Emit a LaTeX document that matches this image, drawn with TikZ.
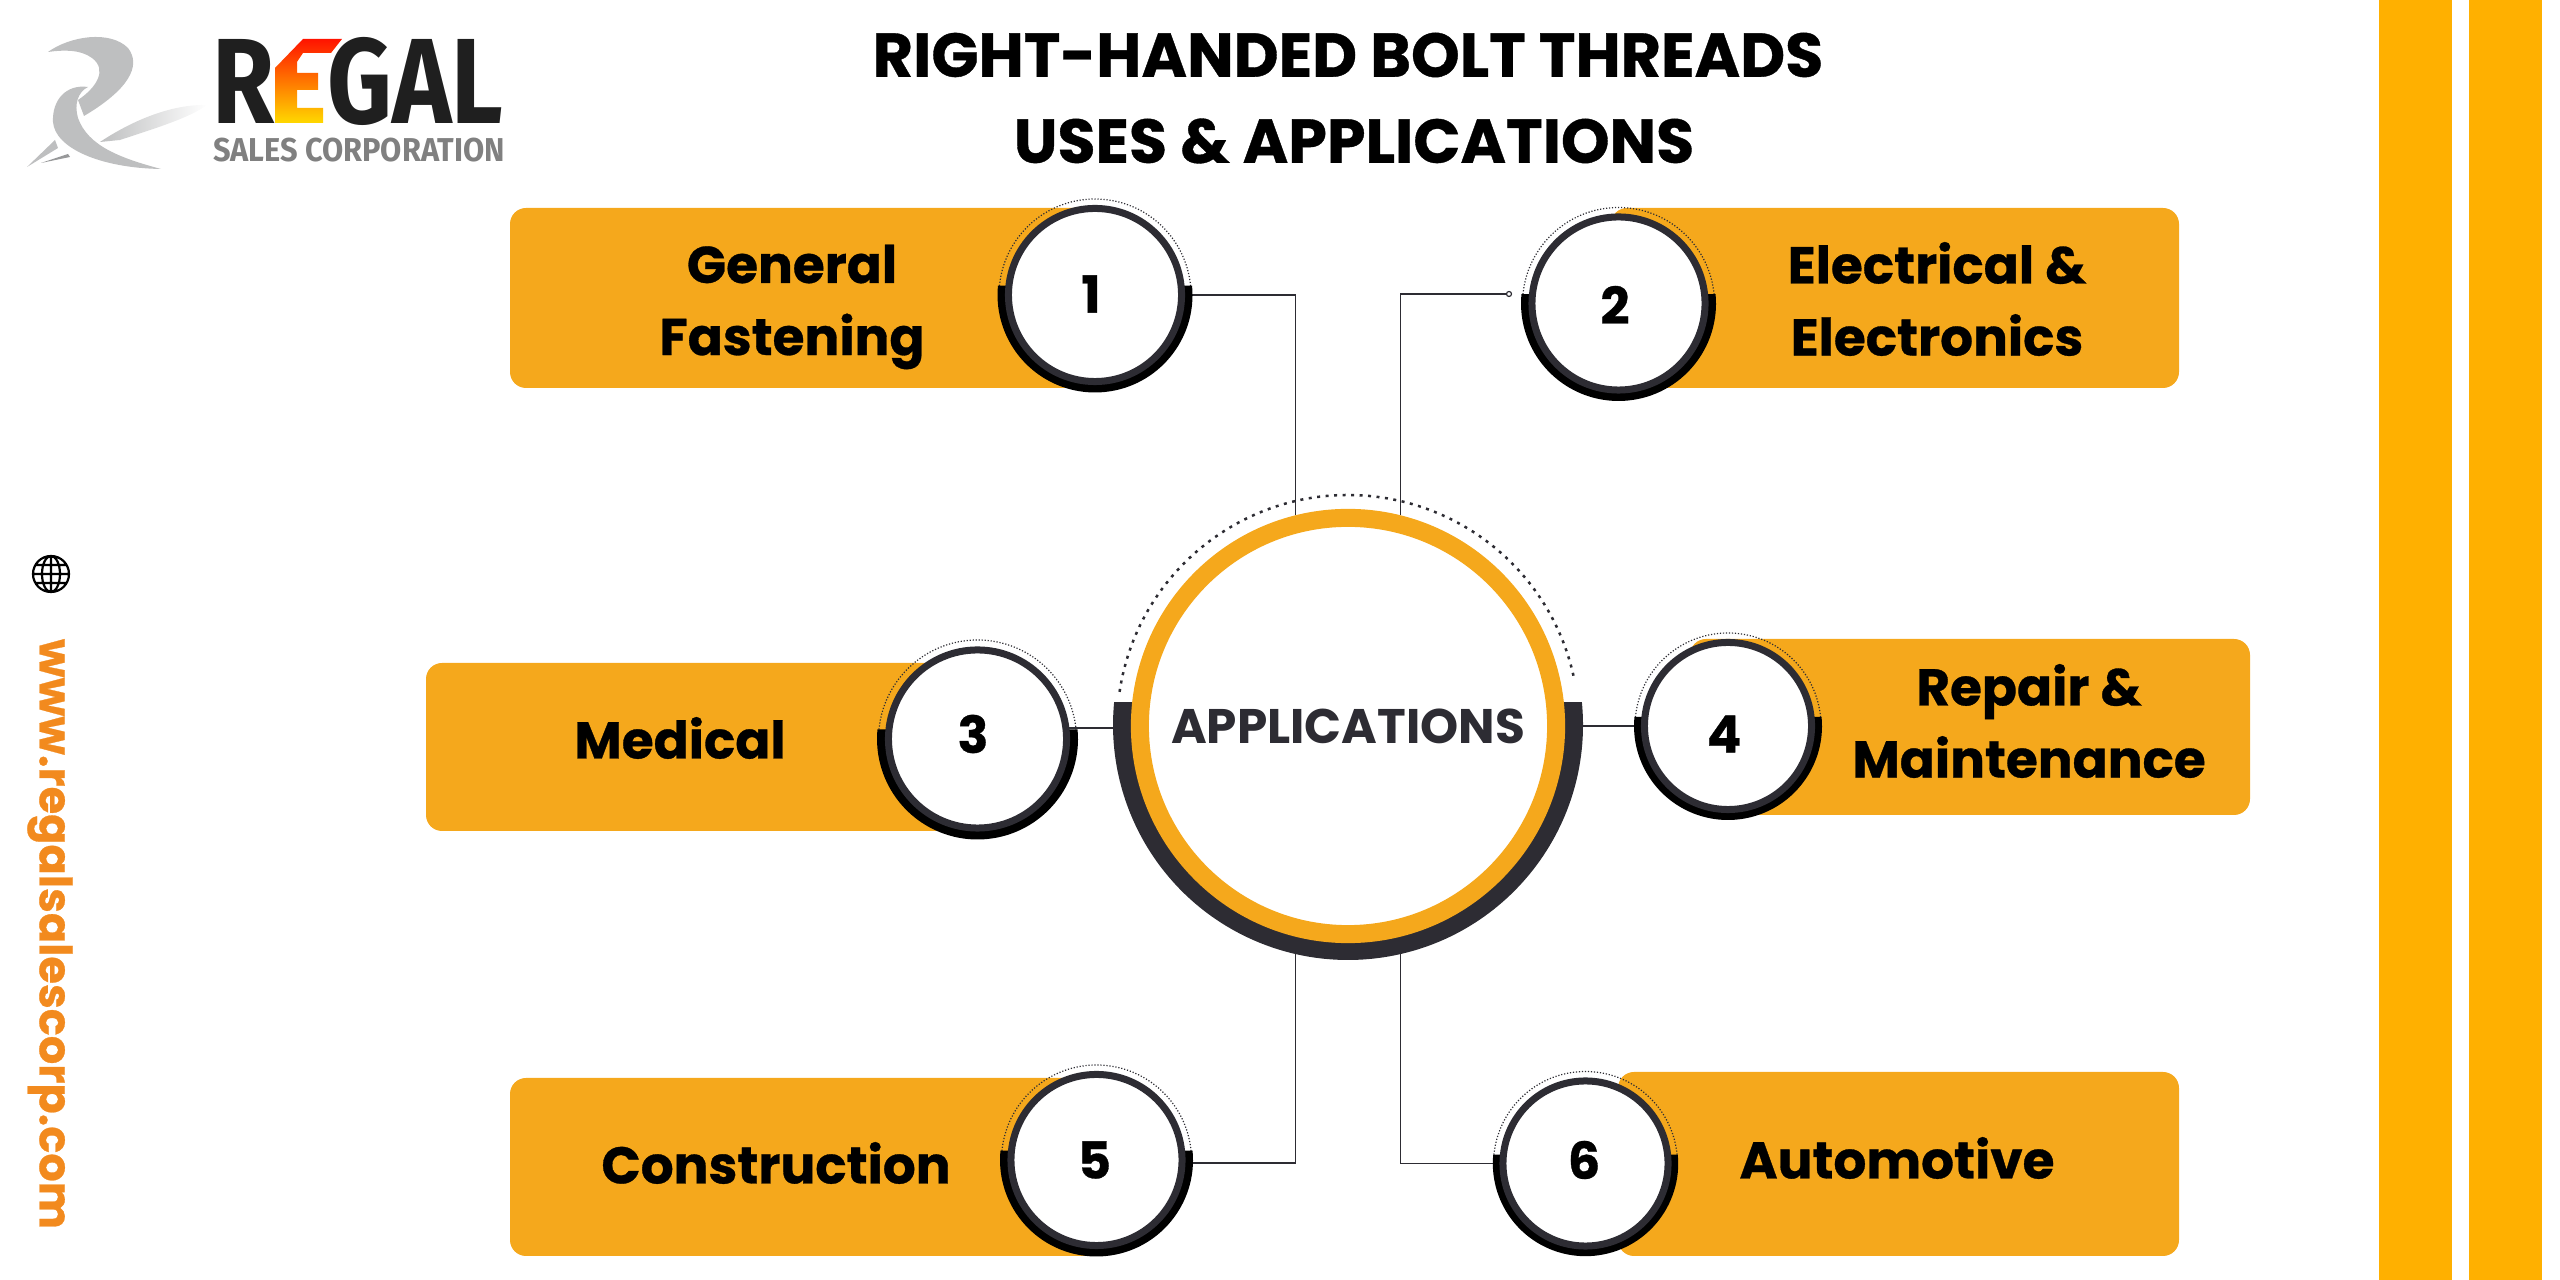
\documentclass[tikz,border=0pt]{standalone}
\usepackage{fontspec}
\setmainfont{Poppins}
\newfontfamily\fira{Fira Sans}
\newfontfamily\heavy{Poppins}[BoldFeatures={FakeBold=0.6}]
\usetikzlibrary{backgrounds}
\definecolor{boxorange}{HTML}{F5A81C}
\definecolor{stripe}{HTML}{FFB000}
\definecolor{ringdark}{HTML}{2D2C33}
\definecolor{weborange}{HTML}{F28A1E}
\definecolor{logogray}{HTML}{BEBFC0}
\tikzset{
    badge/.style={circle,draw=ringdark,fill=white,line width=0.07cm,minimum size=#1,inner sep=0pt},
    tagtext/.style={font=\heavy\fontsize{14.7}{20.5}\selectfont\bfseries,align=center,text=black},
    numtext/.style={font=\heavy\fontsize{14.5}{16}\selectfont\bfseries,text=black},
    titletext/.style={font=\heavy\fontsize{17.6}{19}\selectfont\bfseries},
    link/.style={draw=ringdark,line width=0.019cm},
    dotarc/.style={draw=ringdark,line width=0.012cm,dash pattern=on 0.012cm off 0.018cm},
}
\begin{document}
\begin{tikzpicture}[x=0.01cm,y=-0.01cm]
\useasboundingbox (0,0) rectangle (2560,1280);
% stripes
\fill[stripe] (2379,0) rectangle (2452,1280);
\fill[stripe] (2469,0) rectangle (2542,1280);
% logo
\fill[logogray] (48,52) .. controls (70,36) and (110,30) .. (128,48) .. controls (142,66) and (128,90) .. (84,116) -- (78,100) .. controls (96,88) and (108,70) .. (92,58) .. controls (80,49) and (62,50) .. (48,52) -- cycle;
\fill[logogray] (88,87) .. controls (66,84) and (52,100) .. (53,122) .. controls (55,148) and (100,168) .. (161,169) .. controls (120,158) and (88,146) .. (78,118) .. controls (74,104) and (78,92) .. (88,87) -- cycle;
\shade[left color=logogray,right color=white] (100,142) .. controls (130,122) and (170,104) .. (207,105) .. controls (190,118) and (150,130) .. (120,140) -- cycle;
\fill[logogray!80!black] (41,163) -- (68,154) -- (70,157) -- cycle;
\fill[logogray] (27,167) -- (55,140) -- (58,148) -- cycle;
\node[inner sep=0pt,font=\fira\fontsize{34.5}{36}\selectfont\bfseries,xscale=0.83] (regal) at (358,81) {\textcolor{black!88}{R}\textcolor{white}{E}\textcolor{black!88}{GAL}};
\shade[top color=red!85!orange,bottom color=yellow!70!orange] (275,68) -- (303,39) -- (342,39) -- (331,53) -- (303,53) -- (297,62) -- (297,73) -- (318,73) -- (318,90) -- (297,90) -- (297,108) -- (323,108) -- (323,123) -- (275,123) -- cycle;
\node[inner sep=0pt,font=\fira\fontsize{9.4}{10}\selectfont\bfseries,text=gray,xscale=0.93] (sales) at (359,150.5) {SALES CORPORATION};
% title
\node[titletext] (titlea) at (1348,55) {RIGHT-HANDED BOLT THREADS};
\node[titletext] (titleb) at (1354,141) {USES \& APPLICATIONS};
% web address
\draw[line width=0.022cm] (51,574) circle (18) (51,574) ellipse (9 and 18) (51,556) -- (51,592) (33,574) -- (69,574) (36,565) -- (66,565) (36,583) -- (66,583);
\node[rotate=-90,font=\heavy\fontsize{12.7}{14}\selectfont\bfseries,text=weborange] (web) at (50,934) {www.regalsalescorp.com};
% boxes
\fill[boxorange,rounded corners=0.16cm] (510,208) rectangle (1100,388);
\fill[boxorange,rounded corners=0.16cm] (1611,208) rectangle (2179,388);
\fill[boxorange,rounded corners=0.16cm] (426,663) rectangle (980,831);
\fill[boxorange,rounded corners=0.16cm] (1690,639) rectangle (2250,815);
\fill[boxorange,rounded corners=0.16cm] (510,1078) rectangle (1100,1256);
\fill[boxorange,rounded corners=0.16cm] (1618,1072) rectangle (2179,1256);
% dotted arcs
\draw[dotarc] (1095,295) ++(185.5:96) arc (185.5:354.5:96);
\draw[dotarc] (1618.5,303.5) ++(185.5:96) arc (185.5:354.5:96);
\draw[dotarc] (977.5,739) ++(185.5:99) arc (185.5:354.5:99);
\draw[dotarc] (1728,726) ++(185.5:93) arc (185.5:354.5:93);
\draw[dotarc] (1096.5,1160) ++(185.5:95) arc (185.5:354.5:95);
\draw[dotarc] (1585.5,1163.5) ++(185.5:92) arc (185.5:354.5:92);
\draw[draw=ringdark,line width=0.025cm,dash pattern=on 0.03cm off 0.055cm] (1348,726) ++(188.5:231) arc (188.5:348:231);
% black half rings
\fill[black] (1095,295) ++(-5.5:97.5) arc (-5.5:185.5:97.5) -- cycle;
\fill[black] (1618.5,303.5) ++(-5.5:97.5) arc (-5.5:185.5:97.5) -- cycle;
\fill[black] (977.5,739) ++(-5.5:100.5) arc (-5.5:185.5:100.5) -- cycle;
\fill[black] (1728,726) ++(-5.5:94) arc (-5.5:185.5:94) -- cycle;
\fill[black] (1096.5,1160) ++(-5.5:96.5) arc (-5.5:185.5:96.5) -- cycle;
\fill[black] (1585.5,1163.5) ++(-5.5:92.7) arc (-5.5:185.5:92.7) -- cycle;
\fill[ringdark] (1348,725) ++(-5.6:235) arc (-5.6:185.6:235) -- cycle;
% circles
\node[circle,draw=boxorange,fill=white,line width=0.18cm,minimum size=4.16cm,inner sep=0pt,font=\fontsize{13.8}{15}\selectfont\bfseries,text=ringdark] (hub) at (1348,726) {APPLICATIONS};
\node[badge=1.73cm] (n1) at (1095,295) {};
\node[badge=1.73cm] (n2) at (1618.5,303.5) {};
\node[badge=1.78cm] (n3) at (977.5,739) {};
\node[badge=1.67cm] (n4) at (1728,726) {};
\node[badge=1.71cm] (n5) at (1096.5,1160) {};
\node[badge=1.65cm] (n6) at (1585.5,1163.5) {};
\node[numtext] (num1) at (1091,294) {1};
\node[numtext] (num2) at (1615,305) {2};
\node[numtext] (num3) at (973,734) {3};
\node[numtext] (num4) at (1724,734) {4};
\node[numtext] (num5) at (1094.5,1160) {5};
\node[numtext] (num6) at (1584,1160) {6};
% labels
\node[tagtext] (tag1) at (792,307) {General\\Fastening};
\node[tagtext] (tag2) at (1937,299) {Electrical \&\\Electronics};
\node[tagtext] (tag3) at (680,738) {Medical};
\node[tagtext] (tag4) at (2029,721) {Repair \&\\Maintenance};
\node[tagtext] (tag5) at (776,1163) {Construction};
\node[tagtext] (tag6) at (1897,1158) {Automotive};
\node[circle,draw=ringdark,fill=white,line width=0.012cm,minimum size=0.05cm,inner sep=0pt] (end2) at (1509,294) {};
% links
\begin{pgfonlayer}{background}
\draw[link] (n1.east) -| (hub.104);
\draw[link] (end2) -| (hub.76);
\draw[link] (n3.7) -- (n3.7 -| hub.west);
\draw[link] (n4.west) -- (n4.west -| hub.east);
\draw[link] (n5.358) -| (hub.256);
\draw[link] (n6.west) -| (hub.284);
\end{pgfonlayer}
\end{tikzpicture}
\end{document}
